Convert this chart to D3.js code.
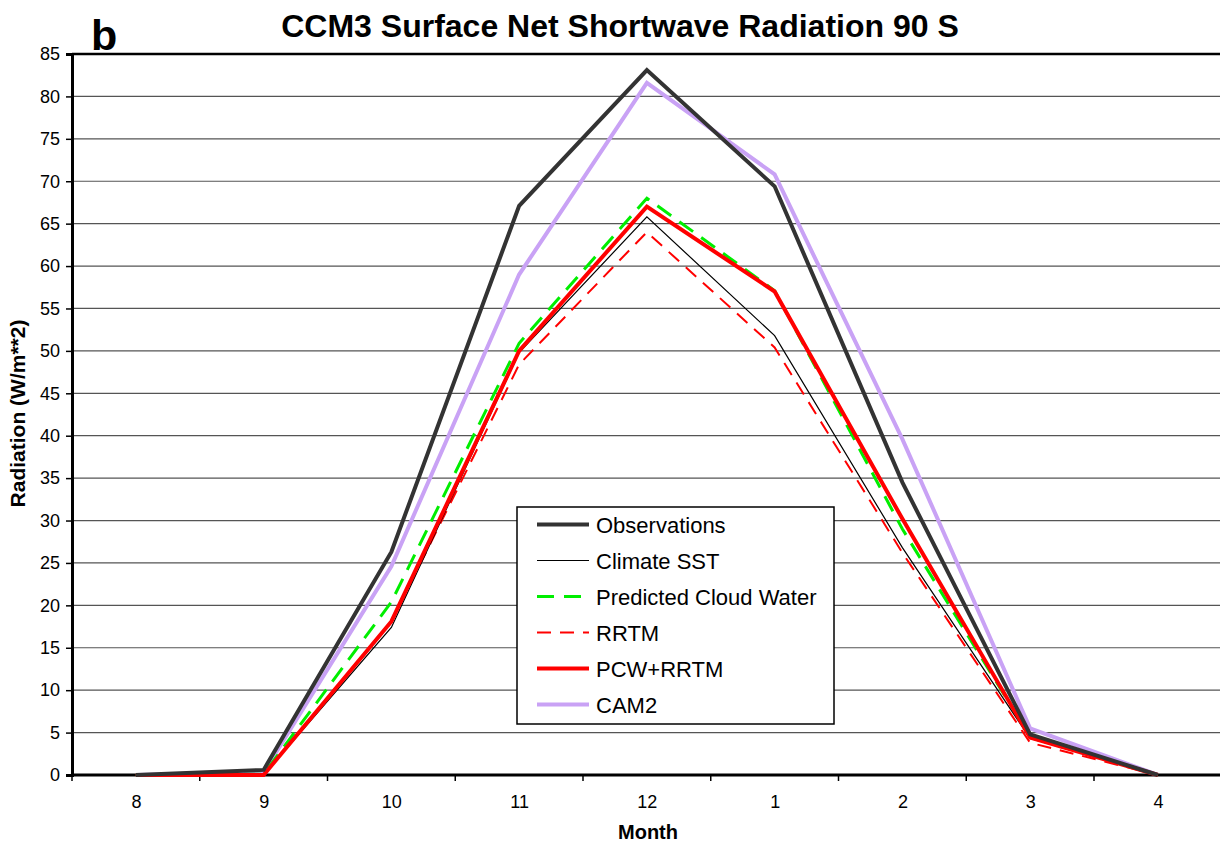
<!DOCTYPE html>
<html>
<head>
<meta charset="utf-8">
<script src="https://cdn.jsdelivr.net/npm/d3@7"></script>
<style>
  html, body { margin: 0; padding: 0; background: #fff; }
  svg { display: block; font-family: "Liberation Sans", Arial, sans-serif; }
</style>
</head>
<body>
<svg id="chart" width="1220" height="846"></svg>
<script>
// Months from August through April
const months = ["8", "9", "10", "11", "12", "1", "2", "3", "4"];

const observations   = [0, 0.6, 26.3, 67.1, 83.1, 69.4, 34.5, 4.8, 0];
const climateSST     = [0, 0.0, 17.4, 49.8, 65.8, 51.8, 26.8, 4.3, 0];
const predictedCloud = [0, 0.1, 20.4, 50.9, 68.0, 57.1, 29.0, 4.5, 0];
const rrtm           = [0, 0.0, 18.0, 48.4, 64.0, 50.4, 26.2, 3.8, 0];
const pcwRrtm        = [0, 0.0, 18.1, 50.0, 67.0, 57.0, 30.2, 4.4, 0];
const cam2           = [0, 0.3, 24.6, 59.0, 81.6, 70.8, 39.6, 5.5, 0];

const yTicks = d3.range(0, 86, 5);

const seriesNames = ["Observations", "Climate SST", "Predicted Cloud Water", "RRTM", "PCW+RRTM", "CAM2"];

const series = [
  { name: seriesNames[0], values: observations,   color: "#333333", width: 4,   dash: null },
  { name: seriesNames[1], values: climateSST,     color: "#000000", width: 1.2, dash: null },
  { name: seriesNames[2], values: predictedCloud, color: "#00ee00", width: 3,   dash: "17,10" },
  { name: seriesNames[3], values: rrtm,           color: "#ff0000", width: 2,   dash: "14,9" },
  { name: seriesNames[4], values: pcwRrtm,        color: "#ff0000", width: 4,   dash: null },
  { name: seriesNames[5], values: cam2,           color: "#c9a2f5", width: 4,   dash: null }
];

const svg = d3.select("#chart");
const plotLeft = 72, plotTop = 54, plotBottom = 775;
const step = 127.75;
const plotRight = plotLeft + step * months.length;

const x = d3.scalePoint().domain(months).range([plotLeft + step / 2, plotRight - step / 2]);
const y = d3.scaleLinear().domain([0, 85]).range([plotBottom, plotTop]);

// horizontal gridlines
svg.append("g").selectAll("line").data(yTicks.filter(d => d > 0 && d < 85)).join("line")
  .attr("x1", plotLeft).attr("x2", plotRight)
  .attr("y1", d => y(d)).attr("y2", d => y(d))
  .attr("stroke", "#555").attr("stroke-width", 1.2);

// top frame line
svg.append("line").attr("x1", plotLeft).attr("x2", plotRight)
  .attr("y1", y(85)).attr("y2", y(85))
  .attr("stroke", "#000").attr("stroke-width", 2.5);

// y axis
const yAxis = d3.axisLeft(y).tickValues(yTicks).tickSize(6).tickPadding(6);
const gy = svg.append("g").attr("transform", `translate(${plotLeft},0)`).call(yAxis);
gy.select(".domain").attr("stroke-width", 3);
gy.selectAll(".tick line").attr("stroke-width", 1.5);
gy.selectAll("text").attr("font-size", 18).attr("fill", "#000")
  .attr("font-family", "Liberation Sans, Arial, sans-serif");

// x axis: ticks fall between categories
const xAxis = d3.axisBottom(x).tickSize(0).tickPadding(20);
const gx = svg.append("g").attr("transform", `translate(0,${plotBottom})`).call(xAxis);
gx.select(".domain").remove();
gx.selectAll("text").attr("font-size", 18).attr("fill", "#000")
  .attr("font-family", "Liberation Sans, Arial, sans-serif");
svg.append("line").attr("x1", plotLeft).attr("x2", plotRight)
  .attr("y1", plotBottom).attr("y2", plotBottom)
  .attr("stroke", "#000").attr("stroke-width", 3);
svg.append("g").selectAll("line").data(d3.range(months.length + 1)).join("line")
  .attr("x1", i => plotLeft + i * step).attr("x2", i => plotLeft + i * step)
  .attr("y1", plotBottom).attr("y2", plotBottom + 6)
  .attr("stroke", "#000").attr("stroke-width", 1.5);

// series lines
const line = d3.line().x((d, i) => x(months[i])).y(d => y(d));
const drawOrder = [5, 2, 3, 1, 4, 0];
svg.append("g").selectAll("path").data(drawOrder.map(i => series[i])).join("path")
  .attr("d", d => line(d.values))
  .attr("fill", "none")
  .attr("stroke", d => d.color)
  .attr("stroke-width", d => d.width)
  .attr("stroke-dasharray", d => d.dash)
  .attr("stroke-linejoin", "miter");

// legend
const lg = svg.append("g").attr("transform", "translate(517,507)");
lg.append("rect").attr("width", 317).attr("height", 217)
  .attr("fill", "#fff").attr("stroke", "#000").attr("stroke-width", 1.5);
const rows = lg.selectAll("g").data(series).join("g")
  .attr("transform", (d, i) => `translate(0,${17.5 + i * 36})`);
rows.append("line").attr("x1", 20).attr("x2", 72).attr("y1", 0).attr("y2", 0)
  .attr("stroke", d => d.color)
  .attr("stroke-width", d => d.width)
  .attr("stroke-dasharray", d => d.dash);
rows.append("text").attr("x", 79).attr("y", 8)
  .attr("font-size", 22).text(d => d.name);

// titles
svg.append("text").attr("x", 620).attr("y", 37).attr("text-anchor", "middle")
  .attr("font-size", 32).attr("font-weight", "bold")
  .text("CCM3 Surface Net Shortwave Radiation 90 S");
svg.append("text").attr("x", 91).attr("y", 50)
  .attr("font-size", 43).attr("font-weight", "bold").text("b");
svg.append("text").attr("x", 648).attr("y", 839).attr("text-anchor", "middle")
  .attr("font-size", 20).attr("font-weight", "bold").text("Month");
svg.append("text")
  .attr("transform", `translate(25,${(plotTop + plotBottom) / 2 - 1}) rotate(-90)`)
  .attr("text-anchor", "middle")
  .attr("font-size", 21).attr("font-weight", "bold").text("Radiation (W/m**2)");
</script>
</body>
</html>
